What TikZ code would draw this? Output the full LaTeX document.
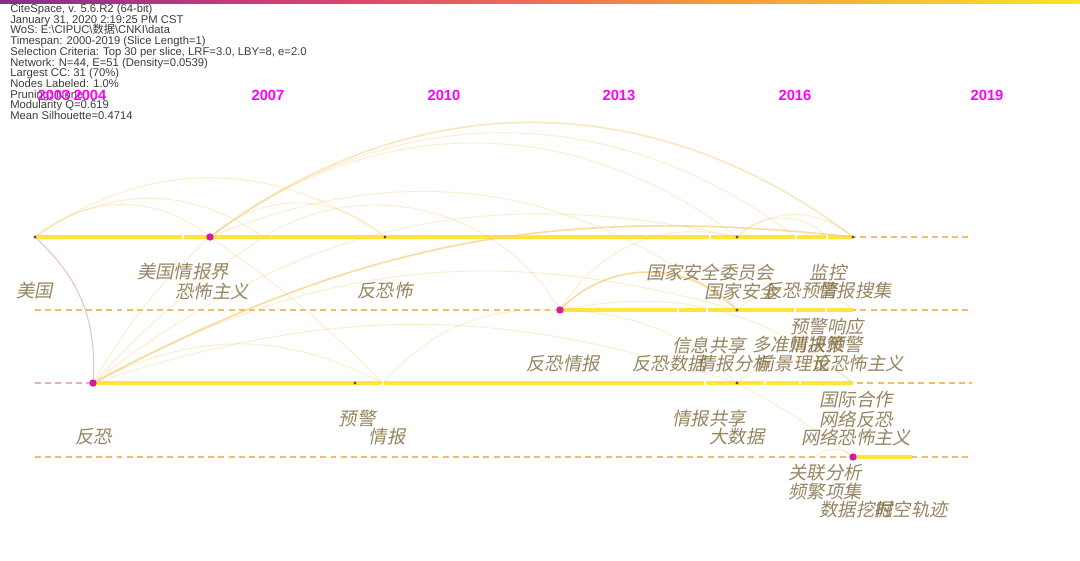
\documentclass[tikz,border=0pt]{standalone}
\usepackage{fontspec}
\setmainfont{Liberation Sans}
\newfontfamily\cjk[FakeSlant=0.2]{Noto Sans CJK SC}
\newfontfamily\cjkup{Noto Sans CJK SC}
\usetikzlibrary{positioning}
\definecolor{kwbrown}{RGB}{132,112,70}
\definecolor{lineyel}{RGB}{255,228,60}
\definecolor{dashor}{RGB}{242,188,110}
\definecolor{arcyel}{RGB}{246,208,125}
\definecolor{hubmag}{RGB}{215,25,160}
\definecolor{yearmag}{RGB}{255,0,255}
\definecolor{dotbrown}{RGB}{105,70,50}
\definecolor{pinkarc}{RGB}{228,175,200}
\definecolor{hdrgray}{RGB}{60,60,60}
\begin{document}
\begin{tikzpicture}[x=0.02cm,y=-0.02cm,
    kw/.style={font=\cjk\fontsize{10.4}{10.4}\selectfont,text=kwbrown,inner sep=0pt,text opacity=0.85},
    yr/.style={font=\bfseries\fontsize{8.4}{8.4}\selectfont,text=yearmag,inner sep=0pt},
    dot/.style={circle,fill=dotbrown,inner sep=0pt,minimum size=1.8pt},
    hub/.style={circle,fill=hubmag,inner sep=0pt,minimum size=4.2pt},
    track/.style={dashor,line width=0.6pt,dash pattern=on 3.4pt off 2.4pt},
    solidseg/.style={lineyel,line width=2.3pt},
    link/.style={arcyel,line width=0.5pt,opacity=0.4},
    strong/.style={arcyel,line width=0.9pt,opacity=0.75}]
\useasboundingbox (0,0) rectangle (1080,561);
\fill[white] (0,0) rectangle (1080,561);
% top colour bar
\shade[left color={rgb,255:red,135;green,45;blue,140},right color={rgb,255:red,225;green,70;blue,110}] (0,0) rectangle (360,3);
\shade[left color={rgb,255:red,225;green,70;blue,110},right color={rgb,255:red,245;green,155;blue,60}] (360,0) rectangle (720,3);
\shade[left color={rgb,255:red,245;green,155;blue,60},right color={rgb,255:red,250;green,228;blue,40}] (720,0) rectangle (1080,3);

% header
\node[anchor=north west,inner sep=0pt,align=left,text=hdrgray,font={\fontsize{6.4}{6.1}\selectfont\lineskiplimit=-20pt}] (hdr) at (10,4)
  {CiteSpace, v. 5.6.R2 (64-bit)\\
   January 31, 2020 2:19:25 PM CST\\
   WoS: E:\textbackslash CIPUC\textbackslash{\cjkup 数据}\textbackslash CNKI\textbackslash data\\
   Timespan: 2000-2019 (Slice Length=1)\\
   Selection Criteria: Top 30 per slice, LRF=3.0, LBY=8, e=2.0\\
   Network: N=44, E=51 (Density=0.0539)\\
   Largest CC: 31 (70\%)\\
   Nodes Labeled: 1.0\%\\
   Pruning: None\\
   Modularity Q=0.619\\
   Mean Silhouette=0.4714};

% years
\node[yr] (y03) at (54,95) {2003};
\node[yr] (y04) at (90,95) {2004};
\node[yr] (y07) at (268,95) {2007};
\node[yr] (y10) at (444,95) {2010};
\node[yr] (y13) at (619,95) {2013};
\node[yr] (y16) at (795,95) {2016};
\node[yr] (y19) at (987,95) {2019};

% track ends
\coordinate (a1) at (35,237); \coordinate (b1) at (972,237);
\coordinate (a2) at (35,310); \coordinate (b2) at (972,310);
\coordinate (a3) at (35,383); \coordinate (b3) at (972,383);
\coordinate (a4) at (35,457); \coordinate (b4) at (972,457);
\coordinate (n3) at (853,310);
\coordinate (p4) at (853,383);
\coordinate (q2) at (912,457);
\coordinate (g1) at (263,237);
\coordinate (g2) at (796,237);
\coordinate (g3) at (827,237);
\coordinate (r3) at (383,383);
\coordinate (s1) at (815,457);

\draw[track] (a1) -- (b1);
\draw[track] (a2) -- (b2);
\draw[track] (93,383) -- (b3);
\draw[pinkarc,line width=0.6pt,dash pattern=on 3.4pt off 2.4pt] (a3) -- (93,383);
\draw[track] (a4) -- (b4);

\draw[solidseg] (a1) -- (853,237);
\draw[solidseg] (560,310) -- (n3);
\draw[solidseg] (93,383) -- (p4);
\draw[solidseg] (853,457) -- (q2);
% slice gaps
\foreach \x/\y in {183/237,710/237,796/237,827/237,678/310,707/310,795/310,826/310,383/383,705/383,765/383,800/383}
  \draw[white,line width=0.9pt] (\x,\y-2.5) -- (\x,\y+2.5);

% nodes
\node[dot] (m1) at (35,237) {};
\node[hub] (m2) at (210,237) {};
\node[dot] (m3) at (385,237) {};
\node[dot] (m4) at (737,237) {};
\node[dot] (m5) at (853,237) {};
\node[hub] (n1) at (560,310) {};
\node[dot] (n2) at (737,310) {};
\node[hub] (p1) at (93,383) {};
\node[dot] (p2) at (355,383) {};
\node[dot] (p3) at (737,383) {};
\node[hub] (q1) at (853,457) {};

% links
\draw[link] (m1) to[bend left=35] (m3);
\draw[link] (m1) to[bend left=35] (g1);
\draw[link] (m1) to[bend left=38] (m2);
\draw[strong,opacity=0.5] (m2) to[bend left=37] (m5);
\draw[link] (m2) to[bend left=37] (g2);
\draw[link] (m2) to[bend left=37] (m4);
\draw[link] (m2) to[bend left=40] (m3);
\draw[link] (g1) to[bend left=45] (n1);
\draw[link] (m2) to[bend left=30] (n2);
\draw[link] (m4) to[bend left=40] (m5);
\draw[link] (m4) to[bend left=45] (g3);
\draw[pinkarc,line width=0.6pt,opacity=0.8] (m1) to[bend left=25] (p1);
\draw[link] (p1) to[bend left=8] (m2);
\draw[link] (p1) to[bend left=6] (g1);
\draw[strong] (p1) to[bend left=17] (m5);
\draw[link] (p1) to[bend left=22] (n2);
\draw[link] (p1) to[bend left=18] (p3);
\draw[link] (p1) to[bend left=25] (m4);
\draw[link] (p1) to[bend left=27] (r3);
\draw[link] (m2) to[bend left=5] (r3);
\draw[link] (r3) to[bend left=25] (n1);
\draw[strong] (n1) to[bend left=45] (n2);
\draw[link] (n1) to[bend left=35] (m4);
\draw[link] (n1) to[bend left=20] (p3);
\draw[link] (n1) to[bend left=25] (p4);
\draw[link] (n2) to[bend left=40] (n3);
\draw[link] (p3) to[bend left=40] (p4);
\draw[link] (p3) to[bend left=4] (q1);
\draw[link] (s1) to[bend left=40] (q1);

% labels
\node[kw] (k1) at (35,291) {美国};
\node[kw] (k2) at (183,272) {美国情报界};
\node[kw] (k3) at (212,291) {恐怖主义};
\node[kw] (k4) at (385,291) {反恐怖};
\node[kw] (k5) at (710,272) {国家安全委员会};
\node[kw] (k6) at (828,272) {监控};
\node[kw] (k7) at (741,291) {国家安全};
\node[kw] (k8) at (801,291) {反恐预警};
\node[kw] (k9) at (855,291) {情报搜集};
\node[kw] (k10) at (827,327) {预警响应};
\node[kw] (k11) at (709,345) {信息共享};
\node[kw] (k12) at (798,345) {多准则决策};
\node[kw] (k13) at (826,345) {情报预警};
\node[kw] (k14) at (563,364) {反恐情报};
\node[kw] (k15) at (669,364) {反恐数据};
\node[kw] (k16) at (734,364) {情报分析};
\node[kw] (k17) at (793,364) {前景理论};
\node[kw] (k18) at (858,364) {反恐怖主义};
\node[kw] (k19) at (94,437) {反恐};
\node[kw] (k20) at (357,419) {预警};
\node[kw] (k21) at (387,437) {情报};
\node[kw] (k22) at (709,419) {情报共享};
\node[kw] (k23) at (737,437) {大数据};
\node[kw] (k24) at (856,400) {国际合作};
\node[kw] (k25) at (856,419) {网络反恐};
\node[kw] (k26) at (856,437) {网络恐怖主义};
\node[kw] (k27) at (825,473) {关联分析};
\node[kw] (k28) at (825,492) {频繁项集};
\node[kw] (k29) at (856,510) {数据挖掘};
\node[kw] (k30) at (911,510) {时空轨迹};
\end{tikzpicture}
\end{document}
